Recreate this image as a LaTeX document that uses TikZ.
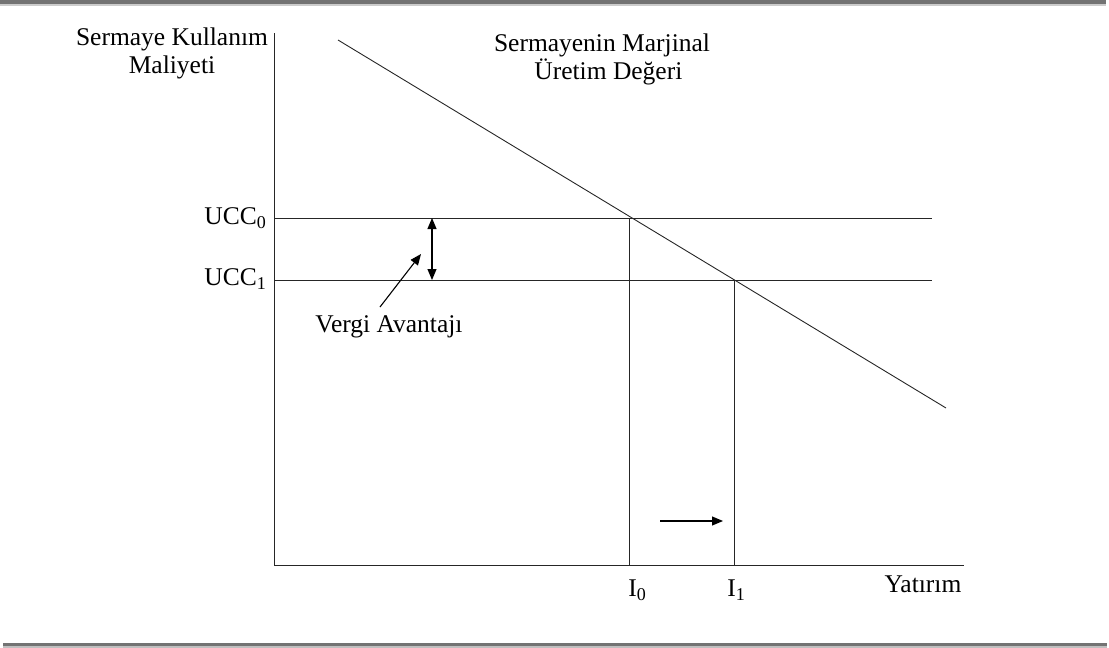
\documentclass[tikz,border=0pt]{standalone}
\usepackage{fontspec}
\setmainfont{Liberation Serif}
\usetikzlibrary{arrows.meta}
\newcommand{\sbs}[1]{\raisebox{-0.3ex}{\fontsize{18}{20}\selectfont #1}}
\begin{document}
\begin{tikzpicture}[x=1pt,y=-1pt,
  ln/.style={line width=0.9pt, draw=black!85},
  lbl/.style={font=\fontsize{25.5}{28}\selectfont, inner sep=0pt},
  arr/.style={line width=1.1pt, -{Triangle[length=11pt,width=9pt]}},
  darr/.style={line width=1.1pt, {Triangle[length=11pt,width=9pt]}-{Triangle[length=11pt,width=9pt]}}]
\useasboundingbox (0,0) rectangle (1109,648);
% frame bars
\fill[gray!90!black] (0,0) rectangle (1106,4);
\fill[gray!40] (0,4) rectangle (1106,6);
\fill[gray!90!black] (3,643) rectangle (1107,646);
\fill[gray!50] (3,646) rectangle (1107,648);
% axes
\coordinate (O) at (274,565);
\coordinate (ytop) at (274,33);
\coordinate (xend) at (964,565);
\draw[ln] (ytop) -- (O) -- (xend);
% MPK line
\coordinate (m1) at (338,40);
\coordinate (m2) at (946,408);
\draw[ln] (m1) -- (m2);
% UCC lines
\coordinate (u0a) at (274,218);
\coordinate (u0b) at (932,218);
\coordinate (u1a) at (274,280);
\coordinate (u1b) at (932,280);
\draw[ln] (u0a) -- (u0b);
\draw[ln] (u1a) -- (u1b);
% verticals
\coordinate (i0t) at (629,218);
\coordinate (i0b) at (629,565);
\coordinate (i1t) at (734,280);
\coordinate (i1b) at (734,565);
\draw[ln] (i0t) -- (i0b);
\draw[ln] (i1t) -- (i1b);
% double arrow
\coordinate (d0) at (432,218);
\coordinate (d1) at (432,280);
\draw[darr] (d0) -- (d1);
% labels
\node[lbl, align=center] (ylab) at (172,53) {Sermaye Kullanım\\Maliyeti};
\node[lbl, align=center] (mlab) at (602,59) {Sermayenin Marjinal\\\ \ Üretim Değeri};
\node[lbl, anchor=east] (ucc0) at (266,218) {UCC\sbs{0}};
\node[lbl, anchor=east] (ucc1) at (266,279) {UCC\sbs{1}};
\node[lbl] (vergi) at (389,327) {Vergi Avantajı};
\node[lbl] (i0) at (637,590) {I\sbs{0}};
\node[lbl] (i1) at (736,590) {I\sbs{1}};
\node[lbl] (yat) at (923,584) {Yatırım};
% pointer arrow
\coordinate (vt) at (380,307);
\coordinate (vh) at (421,254);
\draw[arr] (vt) -- (vh);
% right arrow
\coordinate (ra) at (660,521);
\coordinate (rb) at (723,521);
\draw[arr] (ra) -- (rb);
\end{tikzpicture}
\end{document}
